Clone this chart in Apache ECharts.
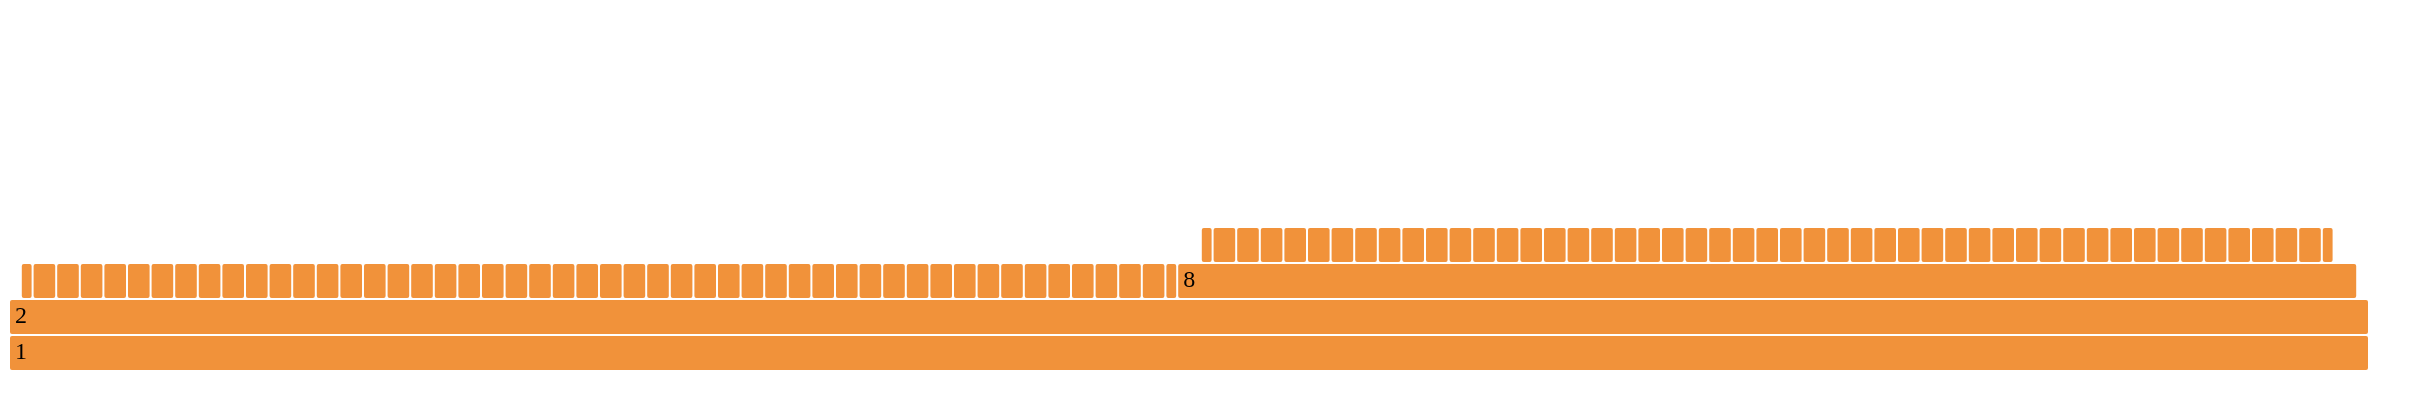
<!DOCTYPE html>
<html><head><meta charset="utf-8">
<script src="https://cdn.jsdelivr.net/npm/echarts@6/dist/echarts.min.js"></script>
<style>html,body{margin:0;padding:0;background:#fff}#c{width:2412px;height:406px}</style>
</head><body><div id="c"></div>
<script>
// Flame graph: each level is a row of contiguous blocks described by their edges (in time units)
const level0Edges = [0, 100];
const level0Names = ['1'];
const level1Edges = [0, 100];
const level1Names = ['2'];
const level2Edges = [0.5, 1, 2, 3, 4, 5, 6, 7, 8, 9, 10, 11, 12, 13, 14, 15, 16, 17, 18, 19, 20, 21, 22, 23, 24, 25, 26, 27, 28, 29, 30, 31, 32, 33, 34, 35, 36, 37, 38, 39, 40, 41, 42, 43, 44, 45, 46, 47, 48, 49, 49.5, 99.5];
const level2Names = ['', '', '', '', '', '', '', '', '', '', '', '', '', '', '', '', '', '', '', '', '', '', '', '', '', '', '', '', '', '', '', '', '', '', '', '', '', '', '', '', '', '', '', '', '', '', '', '', '', '', '8'];
const level3Edges = [50.5, 51, 52, 53, 54, 55, 56, 57, 58, 59, 60, 61, 62, 63, 64, 65, 66, 67, 68, 69, 70, 71, 72, 73, 74, 75, 76, 77, 78, 79, 80, 81, 82, 83, 84, 85, 86, 87, 88, 89, 90, 91, 92, 93, 94, 95, 96, 97, 98, 98.5];
const level3Names = ['', '', '', '', '', '', '', '', '', '', '', '', '', '', '', '', '', '', '', '', '', '', '', '', '', '', '', '', '', '', '', '', '', '', '', '', '', '', '', '', '', '', '', '', '', '', '', '', ''];

const levels = [
  [level0Edges, level0Names],
  [level1Edges, level1Names],
  [level2Edges, level2Names],
  [level3Edges, level3Names]
];

const data = [];
const names = [];
levels.forEach(function (lv, level) {
  const edges = lv[0], nm = lv[1];
  for (let i = 0; i < edges.length - 1; i++) {
    data.push([level, edges[i], edges[i + 1]]);
    names.push(nm[i] || '');
  }
});

function renderItem(params, api) {
  const level = api.value(0);
  const p0 = api.coord([api.value(1), level + 1]);
  const p1 = api.coord([api.value(2), level]);
  const w = p1[0] - p0[0];
  const h = p1[1] - p0[1];
  const name = names[params.dataIndex];
  const el = {
    type: 'rect',
    shape: { x: p0[0], y: p0[1], width: Math.max(w - 2, 0.5), height: h - 2, r: 2 },
    style: { fill: '#f1923a' }
  };
  if (name && w > 30) {
    el.textConfig = { position: 'insideLeft', distance: 5 };
    el.textContent = {
      style: { text: name, fill: '#000', fontFamily: 'Liberation Serif', fontSize: 24 }
    };
  }
  return el;
}

const chart = echarts.init(document.getElementById('c'));
chart.setOption({
  animation: false,
  backgroundColor: '#fff',
  grid: { left: 10, right: 42, top: 12, bottom: 34 },
  xAxis: { type: 'value', min: 0, max: 100, show: false },
  yAxis: { type: 'value', min: 0, max: 10, show: false },
  series: [{
    type: 'custom',
    renderItem: renderItem,
    encode: { x: [1, 2], y: 0 },
    data: data
  }]
});
</script>
</body></html>
